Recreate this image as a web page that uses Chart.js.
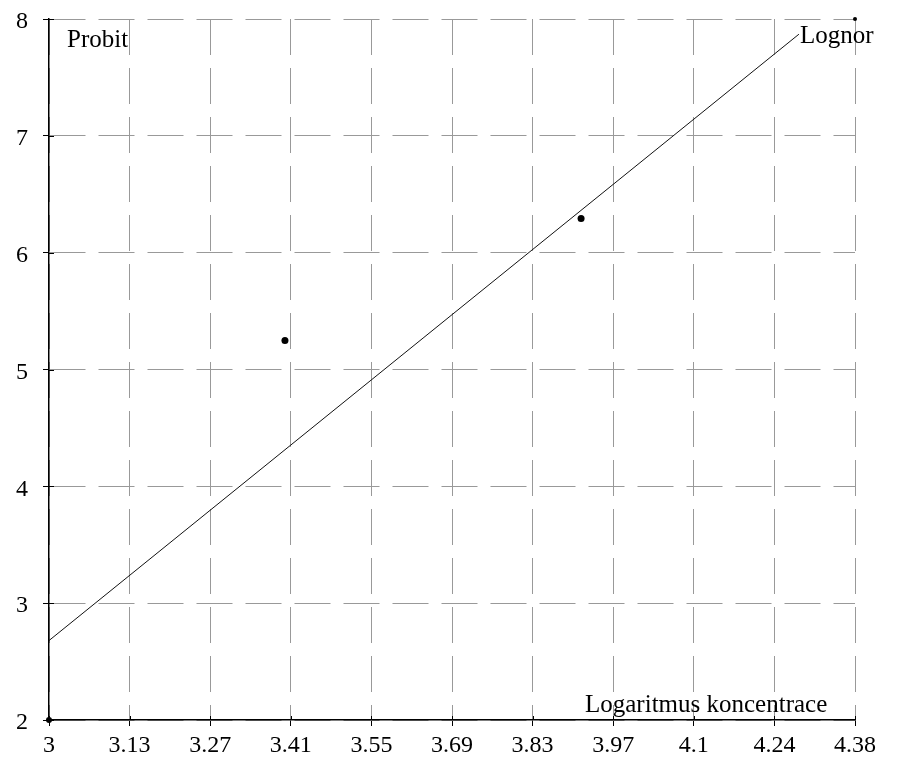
<!DOCTYPE html>
<html>
<head>
<meta charset="utf-8">
<script src="https://cdn.jsdelivr.net/npm/chart.js@4.4.0/dist/chart.umd.min.js"></script>
<style>
  html, body { margin: 0; padding: 0; background: #fff; }
  #wrap { width: 899px; height: 761px; }
</style>
</head>
<body>
<div id="wrap"><canvas id="chart" width="899" height="761"></canvas></div>
<script>
// x axis: log concentration
const xMin = 3;
const xMax = 4.38;
const xTickLabels = ['3', '3.13', '3.27', '3.41', '3.55', '3.69', '3.83', '3.97', '4.1', '4.24', '4.38'];
// y axis: probit
const yMin = 2;
const yMax = 8;

// measured points
const pointX = [3, 3.404, 3.911, 4.38];
const pointY = [2, 5.248, 6.293, 8];
const pointSize = [3, 3.5, 3.5, 2];

// fitted lognormal line
const lineX = [3, 4.284];
const lineY = [2.68, 7.87];

const serif = '"Liberation Serif", "Times New Roman", serif';

const labelsPlugin = {
  id: 'labels',
  afterDraw(chart) {
    const { ctx, chartArea, scales } = chart;
    const x = scales.x, y = scales.y;
    ctx.save();

    // inner part of the tick marks (they cross the axes)
    ctx.strokeStyle = '#000';
    ctx.lineWidth = 1;
    x.ticks.forEach((t) => {
      const px = Math.round(x.getPixelForValue(t.value)) + 0.5;
      ctx.beginPath();
      ctx.moveTo(px, chartArea.bottom - 4);
      ctx.lineTo(px, chartArea.bottom);
      ctx.stroke();
    });
    y.ticks.forEach((t) => {
      const py = Math.round(y.getPixelForValue(t.value)) + 0.5;
      ctx.beginPath();
      ctx.moveTo(chartArea.left, py);
      ctx.lineTo(chartArea.left + 5, py);
      ctx.stroke();
    });

    ctx.fillStyle = '#000';
    ctx.font = '25px ' + serif;
    ctx.textBaseline = 'alphabetic';
    ctx.textAlign = 'left';
    ctx.fillText('Probit', chartArea.left + 18, chartArea.top + 28);
    ctx.fillText('Logaritmus koncentrace', chartArea.left + 536, chartArea.bottom - 8);

    const ex = x.getPixelForValue(lineX[lineX.length - 1]);
    const ey = y.getPixelForValue(lineY[lineY.length - 1]);
    ctx.fillText('Lognor', ex + 1, ey + 9);
    ctx.restore();
  }
};

const ctx = document.getElementById('chart').getContext('2d');
new Chart(ctx, {
  type: 'scatter',
  data: {
    datasets: [
      {
        label: 'Lognor',
        type: 'line',
        data: lineX.map((v, i) => ({ x: v, y: lineY[i] })),
        borderColor: '#111',
        borderWidth: 1,
        pointRadius: 0,
        fill: false,
        tension: 0
      },
      {
        label: 'Probit',
        data: pointX.map((v, i) => ({ x: v, y: pointY[i] })),
        backgroundColor: '#000',
        borderColor: '#000',
        pointRadius: pointSize,
        pointBorderWidth: 0,
        clip: false
      }
    ]
  },
  options: {
    responsive: false,
    animation: false,
    layout: { padding: { top: 19, right: 44, left: 0, bottom: 0 } },
    plugins: {
      legend: { display: false },
      tooltip: { enabled: false }
    },
    scales: {
      x: {
        type: 'linear',
        min: xMin,
        max: xMax,
        afterBuildTicks(scale) {
          const n = xTickLabels.length;
          scale.ticks = xTickLabels.map((_, i) => ({ value: xMin + i * (xMax - xMin) / (n - 1) }));
        },
        afterFit(scale) {
          scale.height = 41;
          scale.paddingLeft = 0;
          scale.paddingRight = 0;
        },
        ticks: {
          autoSkip: false,
          maxRotation: 0,
          padding: 5,
          color: '#000',
          font: { family: serif, size: 24 },
          callback: (v, i) => xTickLabels[i]
        },
        grid: {
          color: '#999999',
          lineWidth: 1,
          tickLength: 6,
          tickColor: '#000',
          tickWidth: 1,
          tickBorderDash: []
        },
        border: { display: true, color: '#000', width: 1.5, dash: [36, 13] }
      },
      y: {
        type: 'linear',
        min: yMin,
        max: yMax,
        afterFit(scale) {
          scale.width = 49;
          scale.paddingTop = 0;
          scale.paddingBottom = 0;
        },
        ticks: {
          stepSize: 1,
          padding: 15,
          labelOffset: 3,
          color: '#000',
          font: { family: serif, size: 24 }
        },
        grid: {
          color: '#999999',
          lineWidth: 1,
          tickLength: 6,
          tickColor: '#000',
          tickWidth: 1,
          tickBorderDash: []
        },
        border: { display: true, color: '#000', width: 1.5, dash: [36, 13] }
      }
    }
  },
  plugins: [labelsPlugin]
});
</script>
</body>
</html>
